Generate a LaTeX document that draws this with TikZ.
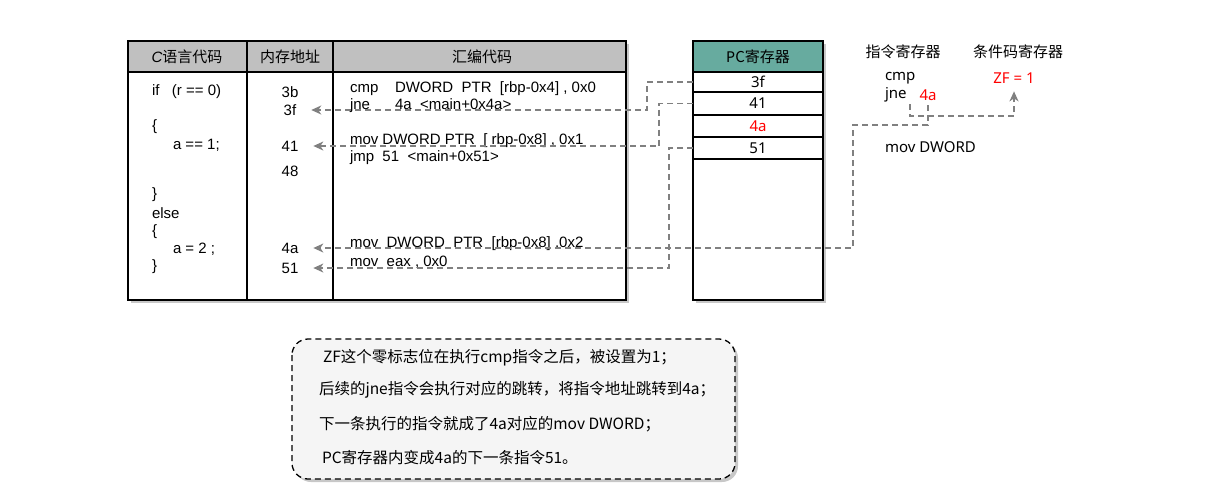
\documentclass[tikz,border=0pt]{standalone}
\usepackage{fontspec}
\setmainfont{Liberation Sans}
\newfontfamily\cjk{Noto Sans CJK SC}
\newfontfamily\hand{Noto Sans}
\usetikzlibrary{arrows.meta,calc}
\definecolor{hdrgray}{HTML}{C0C0C0}
\definecolor{pcteal}{HTML}{67AB9F}
\definecolor{lgray}{HTML}{808080}
\definecolor{notefill}{HTML}{F5F5F5}
\definecolor{redtxt}{HTML}{FF0000}
\definecolor{shadowc}{HTML}{C8C8C8}
\begin{document}
\begin{tikzpicture}[x=1pt,y=-1pt,
  every node/.style={inner sep=0pt,outer sep=0pt},
  boxline/.style={draw=black,line width=1.8pt},
  tabtxt/.style={font=\fontsize{15}{18}\selectfont,anchor=west},
  addr/.style={font=\fontsize{15}{18}\selectfont,anchor=center},
  hdrtxt/.style={font=\cjk\fontsize{15}{18}\selectfont,anchor=center},
  pctxt/.style={font=\hand\fontsize{15}{18}\selectfont,anchor=center},
  regtxt/.style={font=\hand\fontsize{15}{18}\selectfont,anchor=west},
  notetxt/.style={font=\cjk\fontsize{15.5}{18}\selectfont,anchor=west},
  conn/.style={draw=lgray,line width=1.6pt,dash pattern=on 6pt off 4pt},
  tip/.style={-{Stealth[length=10pt,width=9pt,inset=3pt]}}
]
\useasboundingbox (0,0) rectangle (1225,493);
% shadows
\fill[shadowc] (131,44) rectangle (629,303);
\fill[shadowc] (696,44) rectangle (826,303);
\fill[shadowc,rounded corners=16pt] (295,342) rectangle (738,482);
% main table
\fill[white] (128,41) rectangle (626,300);
\fill[hdrgray] (128,41) rectangle (626,72);
\draw[boxline] (128,41) rectangle (626,300);
\draw[boxline] (128,72) -- (626,72);
\draw[boxline] (247,41) -- (247,300);
\draw[boxline] (333,41) -- (333,300);
\node[hdrtxt] (h1) at (187,57) {{\fontspec{Liberation Sans}\itshape C}语言代码};
\node[hdrtxt] (h2) at (290,57) {内存地址};
\node[hdrtxt] (h3) at (482,57) {汇编代码};
% C code
\node[tabtxt] (c1) at (152,92) {if\ \ \ (r == 0)};
\node[tabtxt] (c2) at (152,127) {\{};
\node[tabtxt] (c3) at (173,145) {a == 1;};
\node[tabtxt] (c4) at (152,195) {\}};
\node[tabtxt] (c5) at (152,213) {else};
\node[tabtxt] (c6) at (152,232) {\{};
\node[tabtxt] (c7) at (173,249) {a = 2 ;};
\node[tabtxt] (c8) at (152,267) {\}};
% addresses
\node[addr] (a3b) at (290,92) {3b};
\node[addr] (a3f) at (290,110) {3f};
\node[addr] (a41) at (290,146) {41};
\node[addr] (a48) at (290,171) {48};
\node[addr] (a4a) at (290,248) {4a};
\node[addr] (a51) at (290,268) {51};
% assembly
\node[tabtxt] (s1) at (350,89) {cmp\ \ \ \ DWORD\ \ PTR\ \ [rbp-0x4] , 0x0};
\node[tabtxt] (s2) at (350,106) {jne\ \ \ \ \ \ 4a\ \ <main+0x4a>};
\node[tabtxt] (s3) at (350,141) {mov DWORD PTR\ \ [ rbp-0x8] , 0x1};
\node[tabtxt] (s4) at (350,158) {jmp\ \ 51\ \ <main+0x51>};
\node[tabtxt] (s5) at (350,244) {mov\ \ DWORD\ \ PTR\ \ [rbp-0x8] ,0x2};
\node[tabtxt] (s6) at (350,262) {mov\ \ eax , 0x0};
% PC register
\fill[white] (693,41) rectangle (823,300);
\fill[pcteal] (693,41) rectangle (823,72);
\draw[boxline] (693,41) rectangle (823,300);
\foreach \yy in {72,92,115,137,159} \draw[boxline] (693,\yy) -- (823,\yy);
\node[pctxt] (pch) at (758,57) {P{\cjk C寄存器}};
\node[pctxt,minimum width=130pt,minimum height=20pt] (r3f) at (758,82) {3f};
\node[pctxt,minimum width=130pt,minimum height=23pt] (r41) at (758,103.5) {41};
\node[pctxt,minimum width=130pt,minimum height=22pt,text=redtxt] (r4a) at (758,126) {4a};
\node[pctxt,minimum width=130pt,minimum height=22pt] (r51) at (758,148) {51};
% right side registers
\node[hdrtxt] (ir) at (903,52) {指令寄存器};
\node[hdrtxt] (cr) at (1018,52) {条件码寄存器};
\node[regtxt] (icmp) at (885,78) {cmp};
\node[regtxt] (ijne) at (885,95) {jne};
\node[pctxt,text=redtxt] (i4a) at (928,95) {4a};
\node[pctxt,text=redtxt] (zf) at (1014,78) {ZF = 1};
\node[regtxt] (imov) at (885,147) {mov DWORD};
\coordinate (jneb) at (910,104);
\coordinate (ia4b) at (928,105);
% connectors
\draw[conn,tip] (r3f.west) -- ++(-46,0) |- ($(a3f.east)+(15,0)$);
\draw[conn,tip] (r41.west) -- ++(-34,0) |- ($(a41.east)+(15,0)$);
\draw[conn,tip] (r51.west) -- ++(-24,0) |- ($(a51.east)+(15,0)$);
\draw[conn,tip] (jneb) -- ++(0,12) -| ($(zf.south)+(0,8)$);
\draw[conn,tip] (ia4b) -- ++(0,20) -| (853,248) -- ($(a4a.east)+(15,0)$);
% note
\draw[draw=black,line width=1.3pt,dash pattern=on 6pt off 4pt,fill=notefill,rounded corners=16pt] (292,339) rectangle (735,479);
\node[notetxt] (n1) at (323,358) {ZF这个零标志位在执行cmp指令之后，被设置为1；};
\node[notetxt] (n2) at (319,390) {后续的jne指令会执行对应的跳转，将指令地址跳转到4a；};
\node[notetxt] (n3) at (319,424) {下一条执行的指令就成了4a对应的mov DWORD；};
\node[notetxt] (n4) at (322,458) {PC寄存器内变成4a的下一条指令51。};
\end{tikzpicture}
\end{document}
